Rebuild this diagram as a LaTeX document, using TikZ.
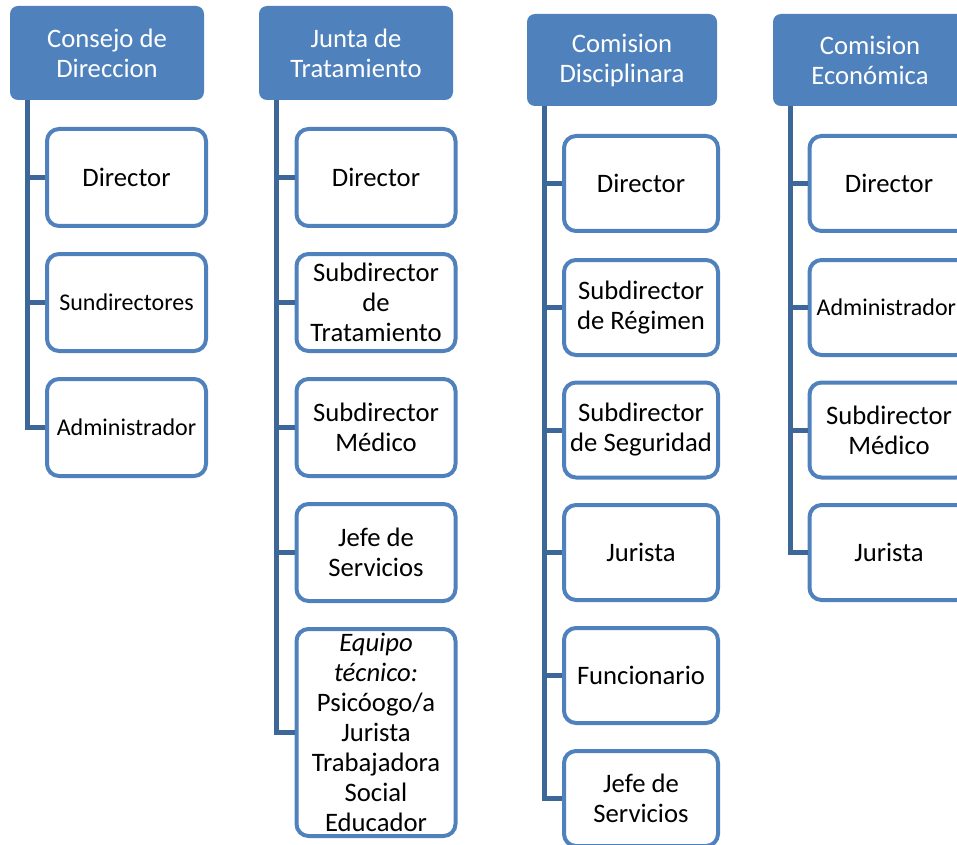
\documentclass[tikz,border=0pt]{standalone}
\usepackage{fontspec}
\setmainfont{Carlito}
\usetikzlibrary{positioning}
\definecolor{headblue}{HTML}{4F81BD}
\definecolor{lineblue}{HTML}{3D6699}

\begin{document}
\begin{tikzpicture}[x=0.75pt, y=-0.75pt,
  head/.style={rectangle, rounded corners=6pt, fill=headblue, text=white, align=center,
    font=\fontsize{20}{22.5}\selectfont, minimum width=145.5pt, minimum height=70.5pt},
  member/.style={rectangle, rounded corners=9pt, draw=headblue, line width=3pt, fill=white,
    align=center, inner sep=1pt, font=\fontsize{20}{22.5}\selectfont,
    minimum width=119.25pt, minimum height=72.75pt},
  small/.style={font=\fontsize{18}{21}\selectfont},
  link/.style={draw=lineblue, line width=3.75pt}]
  \useasboundingbox (0,0) rectangle (957,845);
  \clip (0,0) rectangle (957,845);

  % Consejo de Direccion
  \node[head] (consejo) at (107,53) {Consejo de\\Direccion};
  \coordinate (s1) at (27,100);
  \node[member] (c1) at (126.5,177.5) {Director};
  \node[member, small] (c2) at (126.5,302.5) {Sundirectores};
  \node[member, small] (c3) at (126.5,427.5) {Administrador};
  \draw[link] (s1) |- (c1.west);
  \draw[link] (s1) |- (c2.west);
  \draw[link] (s1) |- (c3.west);

  % Junta de Tratamiento
  \node[head] (junta) at (356,53) {Junta de\\Tratamiento};
  \coordinate (s2) at (276,100);
  \node[member] (j1) at (376,177.5) {Director};
  \node[member] (j2) at (376,302.5) {Subdirector\\de\\Tratamiento};
  \node[member] (j3) at (376,427.5) {Subdirector\\Médico};
  \node[member] (j4) at (376,552.5) {Jefe de\\Servicios};
  \node[member, minimum height=155.25pt] (j5) at (376,732.5)
    {\textit{Equipo}\\\textit{técnico:}\\Psicóogo/a\\Jurista\\Trabajadora\\Social\\Educador};
  \draw[link] (s2) |- (j1.west);
  \draw[link] (s2) |- (j2.west);
  \draw[link] (s2) |- (j3.west);
  \draw[link] (s2) |- (j4.west);
  \draw[link] (s2) |- (j5.west);

  % Comision Disciplinara
  \node[head, minimum width=142.5pt, minimum height=69pt] (disc) at (622,60) {Comision\\Disciplinara};
  \coordinate (s3) at (544,106);
  \node[member, minimum width=115.5pt, minimum height=71.25pt] (d1) at (641,183.5) {Director};
  \node[member, minimum width=115.5pt, minimum height=71.25pt] (d2) at (641,307.5) {Subdirector\\de Régimen};
  \node[member, minimum width=115.5pt, minimum height=71.25pt] (d3) at (641,430) {Subdirector\\de Seguridad};
  \node[member, minimum width=115.5pt, minimum height=71.25pt] (d4) at (641,552.5) {Jurista};
  \node[member, minimum width=115.5pt, minimum height=71.25pt] (d5) at (641,675.5) {Funcionario};
  \node[member, minimum width=115.5pt, minimum height=71.25pt] (d6) at (641,798.5) {Jefe de\\Servicios};
  \draw[link] (s3) |- (d1.west);
  \draw[link] (s3) |- (d2.west);
  \draw[link] (s3) |- (d3.west);
  \draw[link] (s3) |- (d4.west);
  \draw[link] (s3) |- (d5.west);
  \draw[link] (s3) |- (d6.west);

  % Comision Economica
  \node[head, minimum height=69pt] (econ) at (870,60) {Comision\\Económica};
  \coordinate (s4) at (790,106);
  \node[member, minimum height=71.25pt] (e1) at (889,183.5) {Director};
  \node[member, minimum height=71.25pt, small] (e2) at (889,307.5) {Administrador\hspace*{4pt}};
  \node[member, minimum height=71.25pt] (e3) at (889,430) {Subdirector\\Médico};
  \node[member, minimum height=71.25pt] (e4) at (889,552.5) {Jurista};
  \draw[link] (s4) |- (e1.west);
  \draw[link] (s4) |- (e2.west);
  \draw[link] (s4) |- (e3.west);
  \draw[link] (s4) |- (e4.west);
\end{tikzpicture}
\end{document}
